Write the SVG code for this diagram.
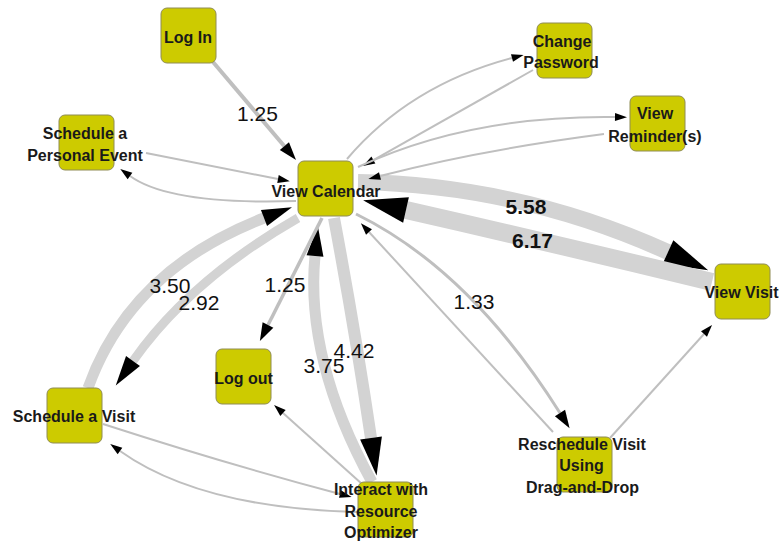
<svg xmlns="http://www.w3.org/2000/svg" width="781" height="544" viewBox="0 0 781 544">
<style>
.e{fill:none;stroke:#bfbfbf}
.b{fill:none;stroke:#d3d3d3}
.n rect{fill:#cdcb00;stroke:#8f8c55;stroke-width:1}
.n text{font-family:"Liberation Sans",Arial,sans-serif;font-weight:bold;font-size:16px;fill:#1a1a1a;text-anchor:middle}
.l{font-family:"Liberation Sans",Arial,sans-serif;font-size:21px;fill:#111;text-anchor:middle}
.lb{font-weight:bold}
</style>
<defs>
<marker id="as" markerUnits="userSpaceOnUse" markerWidth="12" markerHeight="8" refX="0" refY="4" orient="auto" overflow="visible"><path d="M0,0L12,4L0,8z" fill="#000"/></marker>
<marker id="am" markerUnits="userSpaceOnUse" markerWidth="18" markerHeight="12" refX="0" refY="6" orient="auto" overflow="visible"><path d="M0,0L18,6L0,12z" fill="#000"/></marker>
<marker id="al" markerUnits="userSpaceOnUse" markerWidth="30" markerHeight="17" refX="0" refY="8.5" orient="auto" overflow="visible"><path d="M0,0L30,8.5L0,17z" fill="#000"/></marker>
<marker id="ax" markerUnits="userSpaceOnUse" markerWidth="38" markerHeight="22" refX="0" refY="11" orient="auto" overflow="visible"><path d="M0,0L38,11L0,22z" fill="#000"/></marker>
<marker id="axx" markerUnits="userSpaceOnUse" markerWidth="44" markerHeight="26" refX="0" refY="13" orient="auto" overflow="visible"><path d="M0,0L44,13L0,26z" fill="#000"/></marker>
</defs>
<rect width="781" height="544" fill="#fff"/>
<g id="connectors">
<path class="b" stroke-width="16" d="M358,182 Q520,185 668,252" marker-end="url(#axx)"/>
<path class="b" stroke-width="18" d="M712,282 Q560,245 406,210" marker-end="url(#axx)"/>
<path class="b" stroke-width="11" d="M88,388 Q130,270 264,218" marker-end="url(#al)"/>
<path class="b" stroke-width="9" d="M298,218 Q190,280 133,361" marker-end="url(#al)"/>
<path class="b" stroke-width="11" d="M372,482 Q305,360 315,256" marker-end="url(#al)"/>
<path class="b" stroke-width="12" d="M334,218 Q355,330 371,438" marker-end="url(#ax)"/>
<path class="e" stroke-width="4" d="M213,62 L284.4,146.2" marker-end="url(#am)"/>
<path class="e" stroke-width="3.5" d="M322,218 L268,325" marker-end="url(#am)"/>
<path class="e" stroke-width="3" d="M356,214 Q470,270 560,413" marker-end="url(#am)"/>
<path class="e" stroke-width="2" d="M553,432 L369,232" marker-end="url(#as)"/>
<path class="e" stroke-width="2" d="M610,438 L704,334" marker-end="url(#as)"/>
<path class="e" stroke-width="2" d="M362,484 L283,413" marker-end="url(#as)"/>
<path class="e" stroke-width="2" d="M103,424 Q230,465 340,494" marker-end="url(#as)"/>
<path class="e" stroke-width="2" d="M357,512 Q200,508 120,451" marker-end="url(#as)"/>
<path class="e" stroke-width="2" d="M146,153 L278,179" marker-end="url(#as)"/>
<path class="e" stroke-width="2" d="M296,201 Q170,205 130,176" marker-end="url(#as)"/>
<path class="e" stroke-width="2" d="M347,159 Q410,85 512,58" marker-end="url(#as)"/>
<path class="e" stroke-width="2" d="M533,70 L373.4,160.1" marker-end="url(#as)"/>
<path class="e" stroke-width="2" d="M358,167 Q470,115 615,117" marker-end="url(#as)"/>
<path class="e" stroke-width="2" d="M604,134 Q480,150 380,176" marker-end="url(#as)"/>
<text class="l" x="257.5" y="121">1.25</text>
<text class="l lb" x="526" y="214">5.58</text>
<text class="l lb" x="532.5" y="248">6.17</text>
<text class="l" x="170" y="293">3.50</text>
<text class="l" x="199" y="310">2.92</text>
<text class="l" x="285" y="292">1.25</text>
<text class="l" x="354" y="358">4.42</text>
<text class="l" x="324" y="373">3.75</text>
<text class="l" x="474" y="309">1.33</text>
</g>
<g id="node-login" class="n"><rect x="161" y="8" width="55" height="55" rx="6"/><text x="188" y="42.5">Log In</text></g>
<g id="node-personal-event" class="n"><rect x="59" y="115" width="55" height="55" rx="6"/><text x="85" y="139">Schedule a</text><text x="85" y="160.5">Personal Event</text></g>
<g id="node-view-calendar" class="n"><rect x="298" y="161" width="55" height="55" rx="6"/><text x="326" y="196.5">View Calendar</text></g>
<g id="node-change-password" class="n"><rect x="537" y="23" width="55" height="55" rx="6"/><text x="562" y="46.5">Change</text><text x="561" y="67.5">Password</text></g>
<g id="node-view-reminders" class="n"><rect x="630" y="96" width="55" height="55" rx="6"/><text x="655" y="119">View</text><text x="655" y="141.5">Reminder(s)</text></g>
<g id="node-view-visit" class="n"><rect x="715" y="264" width="55" height="55" rx="6"/><text x="741.5" y="298">View Visit</text></g>
<g id="node-reschedule" class="n"><rect x="557" y="437" width="55" height="55" rx="6"/><text x="582" y="450">Reschedule Visit</text><text x="581.5" y="471">Using</text><text x="582.5" y="492.5">Drag-and-Drop</text></g>
<g id="node-logout" class="n"><rect x="216" y="349" width="55" height="55" rx="6"/><text x="243.5" y="384">Log out</text></g>
<g id="node-schedule-visit" class="n"><rect x="47" y="388" width="55" height="55" rx="6"/><text x="74" y="422">Schedule a Visit</text></g>
<g id="node-resource-optimizer" class="n"><rect x="358" y="482" width="55" height="55" rx="6"/><text x="381" y="495">Interact with</text><text x="381" y="516.5">Resource</text><text x="381" y="538">Optimizer</text></g>
</svg>
